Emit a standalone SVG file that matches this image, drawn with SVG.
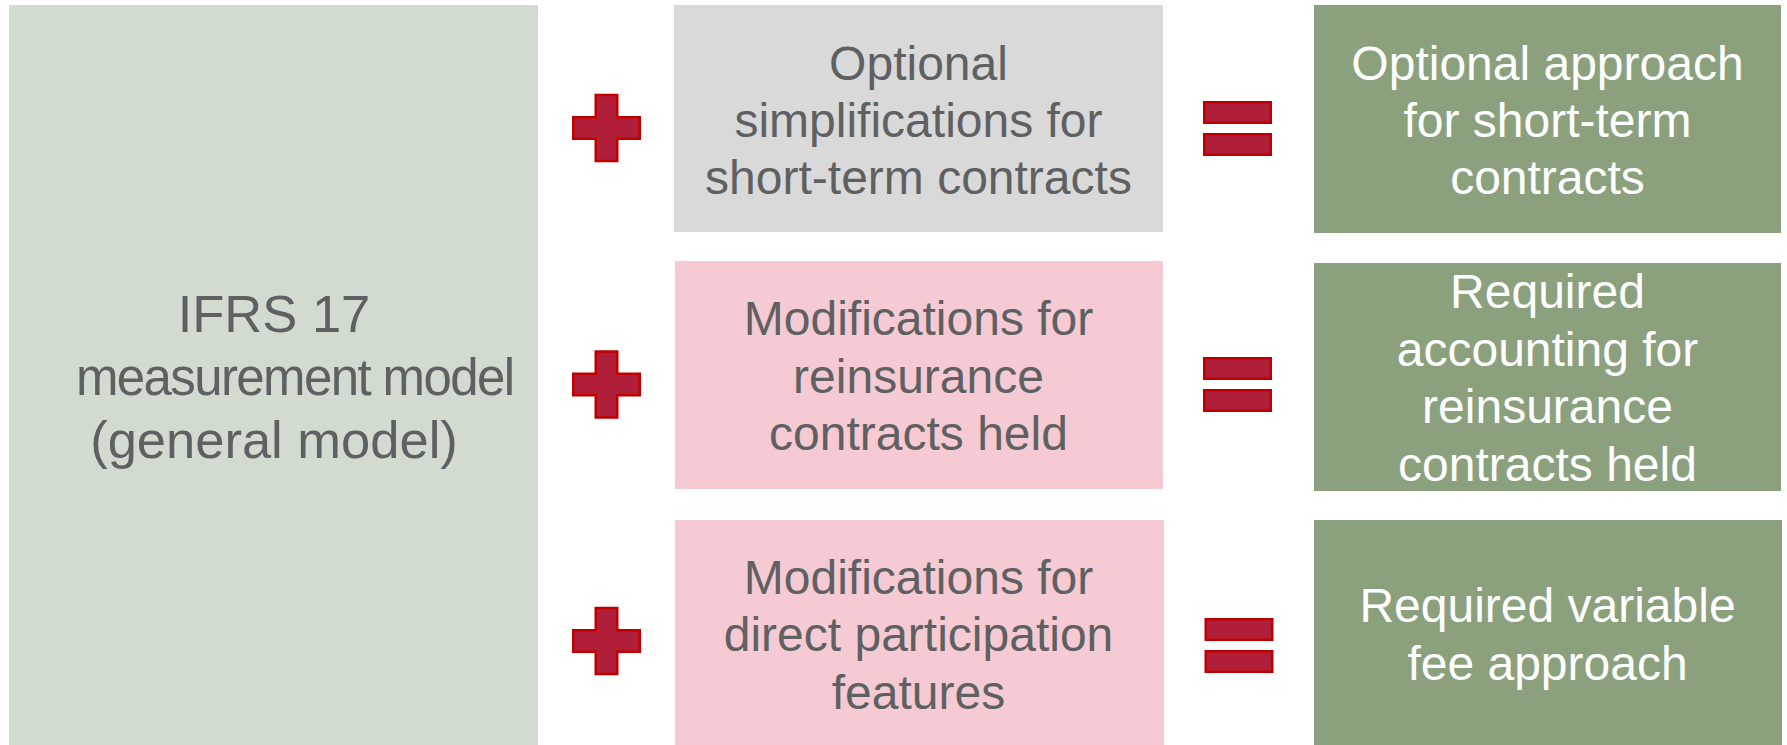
<svg xmlns="http://www.w3.org/2000/svg" xmlns:xlink="http://www.w3.org/1999/xlink" width="1787" height="745" viewBox="0 0 1787 745">
  <style>
    .lbl { font-family: "Liberation Sans", Arial, Helvetica, sans-serif; font-size: 48px; text-anchor: middle; }
    .big { font-size: 52.5px; }
    .mid { font-size: 51px; }
    .dark { fill: #5f6061; }
    .light { fill: #ffffff; }
    .base { fill: #d2dbcf; }
    .opt { fill: #d9d9d9; }
    .mod { fill: #f5cad3; }
    .res { fill: #8ba17e; }
    .op { fill: #b01e3a; stroke: #c00000; stroke-width: 2.5; }
  </style>
  <defs>
    <!-- plus sign, centred on the origin -->
    <path id="plus" class="op" d="M-10.75,-33 H10.75 V-10.75 H33.25 V10.75 H10.75 V33 H-10.75 V10.75 H-33.25 V-10.75 H-10.75 Z"/>
    <!-- equals sign, centred on the origin -->
    <g id="equals">
      <rect class="op" x="-33.25" y="-26.25" width="66.5" height="20.5"/>
      <rect class="op" x="-33.25" y="5.75" width="66.5" height="20.5"/>
    </g>
  </defs>

  <rect width="1787" height="745" fill="#ffffff"/>

  <!-- base model -->
  <g id="general-model">
    <rect class="base" x="9" y="5" width="529" height="740"/>
    <text class="lbl big dark" x="274" y="332">IFRS 17</text>
    <text class="lbl mid dark" x="295.5" y="395" textLength="439" lengthAdjust="spacing">measurement model</text>
    <text class="lbl big dark" x="274" y="458">(general model)</text>
  </g>

  <!-- adjustments -->
  <g id="simplifications">
    <rect class="opt" x="674" y="5" width="489" height="227"/>
    <text class="lbl dark" x="918.5" y="80">Optional</text>
    <text class="lbl dark" x="918.5" y="137">simplifications for</text>
    <text class="lbl dark" x="918.5" y="194">short-term contracts</text>
  </g>
  <g id="reinsurance-mods">
    <rect class="mod" x="675" y="261" width="488" height="228"/>
    <text class="lbl dark" x="918.5" y="335">Modifications for</text>
    <text class="lbl dark" x="918.5" y="393">reinsurance</text>
    <text class="lbl dark" x="918.5" y="450">contracts held</text>
  </g>
  <g id="participation-mods">
    <rect class="mod" x="675" y="520" width="489" height="225"/>
    <text class="lbl dark" x="918.5" y="594">Modifications for</text>
    <text class="lbl dark" x="918.5" y="651">direct participation</text>
    <text class="lbl dark" x="918.5" y="709">features</text>
  </g>

  <!-- resulting approaches -->
  <g id="short-term-approach">
    <rect class="res" x="1314" y="5" width="467" height="228"/>
    <text class="lbl light" x="1547.5" y="80">Optional approach</text>
    <text class="lbl light" x="1547.5" y="137">for short-term</text>
    <text class="lbl light" x="1547.5" y="194">contracts</text>
  </g>
  <g id="reinsurance-accounting">
    <rect class="res" x="1314" y="263" width="467" height="228"/>
    <text class="lbl light" x="1547.5" y="308">Required</text>
    <text class="lbl light" x="1547.5" y="366">accounting for</text>
    <text class="lbl light" x="1547.5" y="423">reinsurance</text>
    <text class="lbl light" x="1547.5" y="481">contracts held</text>
  </g>
  <g id="variable-fee-approach">
    <rect class="res" x="1314" y="520" width="468" height="225"/>
    <text class="lbl light" x="1547.5" y="622">Required variable</text>
    <text class="lbl light" x="1547.5" y="680">fee approach</text>
  </g>

  <!-- plus / equals operators between the columns -->
  <g id="connectors">
    <use xlink:href="#plus" x="606.5" y="128"/>
    <use xlink:href="#plus" x="606.5" y="384.5"/>
    <use xlink:href="#plus" x="606.5" y="641"/>
    <use xlink:href="#equals" x="1237.5" y="128.5"/>
    <use xlink:href="#equals" x="1237.5" y="384.5"/>
    <use xlink:href="#equals" x="1239" y="645.5"/>
  </g>
</svg>
